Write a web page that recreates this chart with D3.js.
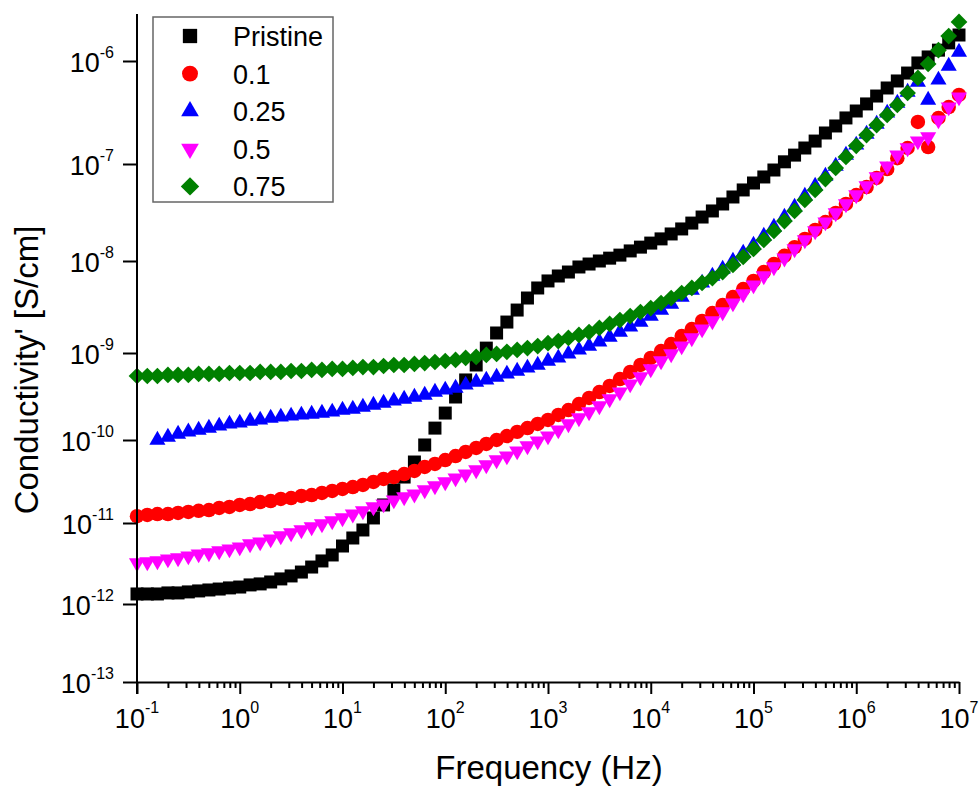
<!DOCTYPE html>
<html>
<head>
<meta charset="utf-8">
<script src="https://cdn.jsdelivr.net/npm/d3@7"></script>
<style>
  body { margin: 0; background: #fff; }
  svg { font-family: "Liberation Sans", Arial, sans-serif; }
</style>
</head>
<body>
<div id="chart"></div>
<script>
// Frequency grid (Hz), 10 points per decade
const frequency = [
  0.1, 0.126, 0.158, 0.2, 0.251, 0.316, 0.398, 0.501, 0.631, 0.794,
  1, 1.26, 1.58, 2, 2.51, 3.16, 3.98, 5.01, 6.31, 7.94,
  10, 12.6, 15.8, 20, 25.1, 31.6, 39.8, 50.1, 63.1, 79.4,
  100, 126, 158, 200, 251, 316, 398, 501, 631, 794,
  1e3, 1.26e3, 1.58e3, 2e3, 2.51e3, 3.16e3, 3.98e3, 5.01e3, 6.31e3, 7.94e3,
  1e4, 1.26e4, 1.58e4, 2e4, 2.51e4, 3.16e4, 3.98e4, 5.01e4, 6.31e4, 7.94e4,
  1e5, 1.26e5, 1.58e5, 2e5, 2.51e5, 3.16e5, 3.98e5, 5.01e5, 6.31e5, 7.94e5,
  1e6, 1.26e6, 1.58e6, 2e6, 2.51e6, 3.16e6, 3.98e6, 5.01e6, 6.31e6, 7.94e6,
  1e7
];

// Conductivity' (S/cm)
const pristine = [
  1.33e-12, 1.33e-12, 1.33e-12, 1.37e-12, 1.37e-12, 1.41e-12, 1.45e-12, 1.49e-12, 1.53e-12, 1.58e-12,
  1.62e-12, 1.72e-12, 1.77e-12, 1.87e-12, 2.04e-12, 2.22e-12, 2.48e-12, 2.86e-12, 3.40e-12, 4.03e-12,
  5.20e-12, 6.53e-12, 8.20e-12, 1.15e-11, 1.65e-11, 2.50e-11, 3.58e-11, 5.43e-11, 8.71e-11, 1.37e-10,
  2.04e-10, 3.12e-10, 4.90e-10, 7.28e-10, 1.13e-9, 1.65e-9, 2.17e-9, 2.93e-9, 3.96e-9, 5.09e-9,
  6.07e-9, 6.87e-9, 7.59e-9, 8.61e-9, 9.27e-9, 1.00e-8, 1.07e-8, 1.15e-8, 1.27e-8, 1.39e-8,
  1.53e-8, 1.69e-8, 1.90e-8, 2.14e-8, 2.46e-8, 2.84e-8, 3.28e-8, 3.87e-8, 4.57e-8, 5.40e-8,
  6.37e-8, 7.35e-8, 8.67e-8, 1.05e-7, 1.22e-7, 1.43e-7, 1.67e-7, 2.00e-7, 2.34e-7, 2.80e-7,
  3.27e-7, 3.83e-7, 4.57e-7, 5.47e-7, 6.40e-7, 7.64e-7, 9.57e-7, 1.09e-6, 1.26e-6, 1.47e-6,
  1.74e-6
];
const sample01 = [
  1.21e-11, 1.25e-11, 1.28e-11, 1.28e-11, 1.32e-11, 1.36e-11, 1.40e-11, 1.43e-11, 1.52e-11, 1.56e-11,
  1.65e-11, 1.69e-11, 1.79e-11, 1.84e-11, 1.95e-11, 2.00e-11, 2.12e-11, 2.17e-11, 2.30e-11, 2.43e-11,
  2.57e-11, 2.71e-11, 2.87e-11, 3.12e-11, 3.39e-11, 3.58e-11, 3.89e-11, 4.24e-11, 4.73e-11, 5.14e-11,
  5.74e-11, 6.41e-11, 7.17e-11, 8.01e-11, 8.95e-11, 1.00e-10, 1.11e-10, 1.24e-10, 1.37e-10, 1.53e-10,
  1.70e-10, 1.94e-10, 2.21e-10, 2.59e-10, 3.04e-10, 3.56e-10, 4.18e-10, 5.02e-10, 6.05e-10, 7.28e-10,
  8.77e-10, 1.05e-9, 1.25e-9, 1.53e-9, 1.82e-9, 2.23e-9, 2.72e-9, 3.32e-9, 4.06e-9, 4.96e-9,
  6.07e-9, 7.59e-9, 9.27e-9, 1.13e-8, 1.39e-8, 1.69e-8, 2.09e-8, 2.52e-8, 3.13e-8, 3.87e-8,
  4.79e-8, 5.79e-8, 7.18e-8, 8.87e-8, 1.14e-7, 1.43e-7, 2.56e-7, 1.46e-7, 2.80e-7, 3.57e-7,
  4.68e-7
];
const sample025 = [
  null, null, 1.00e-10, 1.08e-10, 1.17e-10, 1.24e-10, 1.30e-10, 1.37e-10, 1.45e-10, 1.53e-10,
  1.57e-10, 1.65e-10, 1.70e-10, 1.79e-10, 1.84e-10, 1.89e-10, 1.94e-10, 1.99e-10, 2.04e-10, 2.10e-10,
  2.21e-10, 2.27e-10, 2.39e-10, 2.52e-10, 2.66e-10, 2.81e-10, 2.96e-10, 3.12e-10, 3.29e-10, 3.56e-10,
  3.76e-10, 3.96e-10, 4.29e-10, 4.64e-10, 4.90e-10, 5.30e-10, 5.74e-10, 6.21e-10, 6.73e-10, 7.28e-10,
  8.09e-10, 8.77e-10, 9.75e-10, 1.08e-9, 1.19e-9, 1.32e-9, 1.49e-9, 1.69e-9, 1.92e-9, 2.17e-9,
  2.52e-9, 2.93e-9, 3.41e-9, 4.06e-9, 4.84e-9, 5.77e-9, 6.87e-9, 8.18e-9, 1.00e-8, 1.21e-8,
  1.46e-8, 1.81e-8, 2.24e-8, 2.84e-8, 3.60e-8, 4.68e-8, 5.93e-8, 7.52e-8, 9.53e-8, 1.22e-7,
  1.53e-7, 1.95e-7, 2.44e-7, 3.13e-7, 3.91e-7, 5.00e-7, 6.25e-7, 4.18e-7, 6.55e-7, 8.93e-7,
  1.21e-6
];
const sample05 = [
  3.21e-12, 3.30e-12, 3.40e-12, 3.59e-12, 3.70e-12, 3.91e-12, 4.14e-12, 4.26e-12, 4.51e-12, 4.77e-12,
  5.05e-12, 5.51e-12, 5.82e-12, 6.34e-12, 6.91e-12, 7.53e-12, 8.20e-12, 8.93e-12, 9.72e-12, 1.06e-11,
  1.15e-11, 1.28e-11, 1.40e-11, 1.56e-11, 1.69e-11, 1.89e-11, 2.06e-11, 2.23e-11, 2.50e-11, 2.79e-11,
  3.12e-11, 3.48e-11, 3.89e-11, 4.35e-11, 5.00e-11, 5.74e-11, 6.41e-11, 7.36e-11, 8.47e-11, 9.72e-11,
  1.11e-10, 1.30e-10, 1.53e-10, 1.79e-10, 2.10e-10, 2.46e-10, 2.96e-10, 3.56e-10, 4.40e-10, 5.30e-10,
  6.55e-10, 8.09e-10, 9.75e-10, 1.19e-9, 1.46e-9, 1.82e-9, 2.23e-9, 2.79e-9, 3.49e-9, 4.38e-9,
  5.48e-9, 6.87e-9, 8.61e-9, 1.07e-8, 1.33e-8, 1.65e-8, 2.04e-8, 2.52e-8, 3.13e-8, 3.87e-8,
  4.79e-8, 5.93e-8, 7.35e-8, 9.53e-8, 1.22e-7, 1.43e-7, 1.67e-7, 1.83e-7, 2.67e-7, 3.57e-7,
  4.47e-7
];
const sample075 = [
  5.44e-10, 5.44e-10, 5.44e-10, 5.59e-10, 5.59e-10, 5.59e-10, 5.74e-10, 5.74e-10, 5.74e-10, 5.89e-10,
  5.89e-10, 5.89e-10, 6.05e-10, 6.05e-10, 6.05e-10, 6.21e-10, 6.21e-10, 6.38e-10, 6.38e-10, 6.55e-10,
  6.55e-10, 6.73e-10, 6.90e-10, 6.90e-10, 7.09e-10, 7.28e-10, 7.28e-10, 7.48e-10, 7.67e-10, 7.88e-10,
  8.09e-10, 8.32e-10, 8.77e-10, 9.00e-10, 9.49e-10, 9.75e-10, 1.03e-9, 1.08e-9, 1.13e-9, 1.19e-9,
  1.28e-9, 1.35e-9, 1.46e-9, 1.57e-9, 1.69e-9, 1.87e-9, 2.07e-9, 2.28e-9, 2.52e-9, 2.79e-9,
  3.08e-9, 3.49e-9, 3.96e-9, 4.49e-9, 5.09e-9, 5.77e-9, 6.53e-9, 7.59e-9, 9.06e-9, 1.10e-8,
  1.33e-8, 1.65e-8, 2.04e-8, 2.58e-8, 3.28e-8, 4.26e-8, 5.40e-8, 7.00e-8, 9.10e-8, 1.17e-7,
  1.50e-7, 1.91e-7, 2.39e-7, 2.99e-7, 3.74e-7, 4.89e-7, 6.84e-7, 9.35e-7, 1.26e-6, 1.70e-6,
  2.30e-6
];

const seriesNames = ['Pristine', '0.1', '0.25', '0.5', '0.75'];
const xTickExponents = [-1, 0, 1, 2, 3, 4, 5, 6, 7];
const yTickExponents = [-13, -12, -11, -10, -9, -8, -7, -6];

const width = 980, height = 787;
const plotLeft = 137, plotRight = 959, plotBottom = 682, plotTop = 14;

const svg = d3.select('#chart').append('svg')
    .attr('width', width)
    .attr('height', height);

const x = d3.scaleLog()
    .domain([0.1, 1e7])
    .range([plotLeft, plotRight]);

// The printed y axis does not space its decades evenly, so map log10(value)
// through a piecewise linear scale pinned on each labelled decade.
const yExp = d3.scaleLinear()
    .domain([-13, -12, -11, -10, -9, -8, -7, -6, -5.565])
    .range([plotBottom, 604, 523, 440, 353, 261, 164, 61, plotTop]);
const y = (v) => yExp(Math.log10(v));

// Marker shapes
const shapes = {
    square: d3.symbol(d3.symbolSquare, 169)(),
    circle: d3.symbol(d3.symbolCircle, 165)(),
    triangle: d3.symbol(d3.symbolTriangle, 112)(),
    diamond: d3.symbol(d3.symbolSquare, 140)()
};

const series = [
    { name: seriesNames[0], values: pristine, color: '#000000', shape: 'square', rotate: 0 },
    { name: seriesNames[1], values: sample01, color: '#ff0000', shape: 'circle', rotate: 0 },
    { name: seriesNames[2], values: sample025, color: '#0000ff', shape: 'triangle', rotate: 0 },
    { name: seriesNames[3], values: sample05, color: '#ff00ff', shape: 'triangle', rotate: 180 },
    { name: seriesNames[4], values: sample075, color: '#008000', shape: 'diamond', rotate: 45 }
];

// Data points
series.forEach(s => {
    const pts = frequency.map((f, i) => ({ f: f, v: s.values[i] })).filter(d => d.v != null);
    svg.append('g')
        .selectAll('path')
        .data(pts)
        .join('path')
        .attr('d', shapes[s.shape])
        .attr('fill', s.color)
        .attr('transform', d => `translate(${x(d.f)},${y(d.v)}) rotate(${s.rotate})`);
});

// X axis: major and minor ticks
const minorX = x.ticks().filter(t => Math.abs(Math.log10(t) - Math.round(Math.log10(t))) > 1e-6);
svg.append('g')
    .attr('transform', `translate(0,${plotBottom})`)
    .call(d3.axisBottom(x).tickValues(minorX).tickSize(6).tickSizeOuter(0).tickFormat(''))
    .call(g => g.select('.domain').remove())
    .call(g => g.selectAll('line').attr('stroke', '#000').attr('stroke-width', 2));

svg.append('g')
    .attr('transform', `translate(0,${plotBottom})`)
    .call(d3.axisBottom(x).tickValues(xTickExponents.map(e => Math.pow(10, e))).tickSize(12).tickSizeOuter(0).tickFormat(''))
    .call(g => g.select('.domain').attr('stroke-width', 2))
    .call(g => g.selectAll('line').attr('stroke', '#000').attr('stroke-width', 2));

svg.append('g')
    .selectAll('text')
    .data(xTickExponents)
    .join('text')
    .attr('x', e => x(Math.pow(10, e)))
    .attr('y', plotBottom + 46)
    .attr('text-anchor', 'middle')
    .attr('font-size', 27)
    .call(t => t.append('tspan').text('10'))
    .call(t => t.append('tspan').attr('font-size', 16).attr('dy', -15).text(e => e));

// Y axis
svg.append('g')
    .attr('transform', `translate(${plotLeft},0)`)
    .call(d3.axisLeft(yExp).tickValues(yTickExponents).tickSize(14).tickFormat(''))
    .call(g => g.select('.domain').remove())
    .call(g => g.selectAll('line').attr('stroke', '#000').attr('stroke-width', 2));

svg.append('line')
    .attr('x1', plotLeft).attr('x2', plotLeft)
    .attr('y1', plotTop).attr('y2', plotBottom + 12)
    .attr('stroke', '#000')
    .attr('stroke-width', 2);

svg.append('g')
    .selectAll('text')
    .data(yTickExponents)
    .join('text')
    .attr('x', 114)
    .attr('y', e => yExp(e) + 11)
    .attr('text-anchor', 'end')
    .attr('font-size', 27)
    .call(t => t.append('tspan').text('10'))
    .call(t => t.append('tspan').attr('font-size', 16).attr('dy', -14).text(e => e));

// Axis titles
svg.append('text')
    .attr('x', 549)
    .attr('y', 779)
    .attr('text-anchor', 'middle')
    .attr('font-size', 33)
    .text('Frequency (Hz)');

svg.append('text')
    .attr('transform', 'translate(38,370) rotate(-90)')
    .attr('text-anchor', 'middle')
    .attr('font-size', 33)
    .text("Conductivity' [S/cm]");

// Legend
const legend = svg.append('g').attr('transform', 'translate(153,17)');
legend.append('rect')
    .attr('width', 180)
    .attr('height', 185)
    .attr('fill', 'white')
    .attr('stroke', '#666')
    .attr('stroke-width', 1.5);

const rows = legend.selectAll('g.row')
    .data(series)
    .join('g')
    .attr('class', 'row')
    .attr('transform', (d, i) => `translate(0,${19 + i * 37.6})`);

rows.append('path')
    .attr('d', d => shapes[d.shape])
    .attr('fill', d => d.color)
    .attr('transform', d => `translate(37,0) rotate(${d.rotate}) scale(1.1)`);

rows.append('text')
    .attr('x', 80)
    .attr('y', 10)
    .attr('font-size', 27)
    .text(d => d.name);
</script>
</body>
</html>
